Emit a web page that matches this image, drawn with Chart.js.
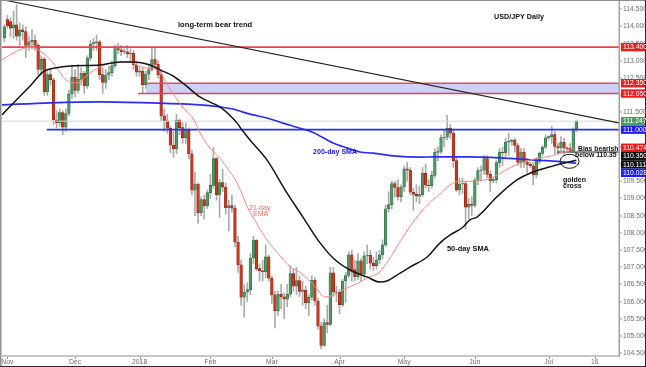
<!DOCTYPE html>
<html><head><meta charset="utf-8">
<script src="https://cdn.jsdelivr.net/npm/chart.js@4.4.1/dist/chart.umd.min.js"></script>
<style>html,body{margin:0;padding:0;background:#fff;}canvas{display:block;}</style>
</head><body>
<canvas id="c" width="646" height="367"></canvas>
<script>
// ---- data (one candle per session slot, Oct 31 2017 .. Jul 11 2018) ----
const opens = [113.67,114.20,114.14,113.95,114.05,113.72,113.90,113.85,113.45,113.55,
113.60,113.45,112.75,113.05,112.10,112.60,112.45,111.28,111.20,111.50,
111.07,111.47,112.04,112.53,112.14,112.46,112.64,112.27,113.08,113.49,
113.53,113.55,112.60,112.37,112.59,112.66,112.86,113.36,113.32,113.27,
113.26,113.20,113.22,112.88,112.67,112.70,112.31,112.61,112.75,113.04,
112.90,112.60,111.40,111.26,111.04,110.55,110.44,111.28,111.06,110.77,
111.00,110.30,109.24,109.42,108.59,108.97,108.78,109.17,109.38,110.16,
109.10,109.46,109.33,108.73,108.79,108.72,107.73,107.07,106.13,106.28,
106.35,107.27,107.79,106.96,106.90,106.87,107.30,106.68,106.20,105.74,
106.21,106.14,106.07,106.22,106.82,106.45,106.61,106.30,106.34,105.97,
106.13,106.62,106.02,105.29,104.73,105.39,105.34,106.84,106.28,106.27,
105.91,106.60,106.76,107.36,106.93,106.73,107.19,106.81,107.33,107.35,
107.12,107.05,107.22,107.36,107.65,108.70,108.82,109.43,109.32,109.05,
109.34,109.86,109.82,109.18,109.12,109.07,109.11,109.73,109.39,109.37,
109.67,110.34,110.37,110.77,110.78,111.04,110.90,110.10,109.25,109.42,
109.43,108.75,108.84,108.80,109.53,109.81,109.82,110.16,109.70,109.51,
109.55,110.04,110.35,110.33,110.64,110.66,110.70,110.54,110.05,110.35,
110.06,109.99,109.95,109.69,110.08,110.31,110.49,110.76,110.80,110.86,
110.51,110.47,110.63,110.47,110.45,110.38,111.00];
const highs = [114.05,114.32,114.25,114.45,114.63,114.10,114.05,114.00,113.70,113.90,
113.75,113.50,113.15,113.10,112.70,112.75,112.50,111.55,111.60,111.55,
111.60,112.15,112.88,112.75,112.90,112.80,112.70,113.15,113.60,113.65,
113.75,113.60,112.80,112.75,112.85,113.00,113.45,113.50,113.45,113.35,
113.45,113.35,113.30,112.95,112.80,112.80,112.70,112.90,113.38,113.38,
113.00,112.75,111.60,111.45,111.10,110.95,111.45,111.30,111.20,111.20,
111.05,110.40,109.77,109.45,109.05,109.10,109.25,109.70,110.48,110.20,
109.55,109.85,109.45,108.95,109.10,108.80,107.90,107.20,106.50,106.55,
107.40,107.90,107.80,107.10,107.20,107.65,107.35,106.75,106.30,106.30,
106.50,106.25,106.50,107.05,106.95,107.00,106.75,106.60,106.45,106.20,
106.75,106.70,106.10,105.40,105.50,105.90,107.00,107.00,106.45,106.35,
106.65,106.85,107.45,107.50,107.20,107.40,107.25,107.45,107.65,107.50,
107.30,107.45,107.50,107.80,108.80,109.20,109.50,109.50,109.55,109.40,
109.95,110.05,109.90,109.30,109.40,109.35,109.90,110.00,109.55,109.80,
110.45,110.50,110.85,111.00,111.42,111.15,111.00,110.20,109.60,109.60,
109.50,109.00,109.05,109.60,109.90,109.95,110.25,110.25,109.80,109.60,
110.10,110.45,110.50,110.75,110.90,110.72,110.75,110.60,110.45,110.45,
110.15,110.05,110.05,110.20,110.35,110.55,110.85,110.82,111.10,110.95,
110.60,110.80,110.75,110.50,110.60,111.05,111.28];
const lows = [113.55,113.95,113.70,113.65,113.60,113.45,113.60,113.10,113.30,113.35,
113.30,112.60,112.60,112.00,112.00,112.30,111.15,111.05,111.10,110.85,
110.95,111.40,111.90,111.95,112.05,112.30,112.05,112.20,113.00,113.30,
113.30,112.45,112.05,112.20,112.45,112.55,112.80,113.20,113.15,113.20,
113.10,112.95,112.75,112.55,112.55,112.05,112.20,112.45,112.70,112.80,
112.50,111.27,110.95,110.90,110.33,110.20,110.30,110.85,110.60,110.60,
110.15,109.10,108.50,108.28,108.50,108.40,108.70,109.00,109.30,108.95,
108.45,109.20,108.55,108.05,108.60,107.60,106.85,105.90,105.55,106.00,
106.20,107.10,106.90,106.60,106.60,106.70,106.60,105.95,105.24,105.60,
105.80,105.50,105.85,106.15,106.30,106.20,106.15,105.90,105.80,105.60,
106.05,105.90,105.20,104.63,104.70,105.10,105.30,106.15,106.00,105.65,
105.85,105.98,106.70,106.60,106.60,106.65,106.60,106.70,107.10,106.95,
106.90,106.95,107.10,107.25,107.60,108.60,108.70,109.05,108.95,108.90,
109.20,109.50,109.10,108.65,108.90,108.85,109.05,109.30,109.20,109.30,
109.60,110.10,110.30,110.50,110.70,110.75,109.90,109.20,109.10,109.15,
108.12,108.40,108.50,108.75,109.40,109.50,109.70,109.60,109.20,109.45,
109.45,109.90,109.95,110.20,110.25,110.55,110.35,109.95,109.90,109.90,
109.75,109.90,109.40,109.60,110.00,110.25,110.45,110.70,110.60,110.30,
110.30,110.40,110.25,110.40,110.35,110.33,110.95];
const closes = [113.99,114.02,113.95,114.05,113.72,113.90,113.85,113.45,113.55,113.60,
113.45,112.75,113.05,112.10,112.60,112.45,111.28,111.20,111.50,111.07,
111.47,112.04,112.53,112.14,112.46,112.64,112.27,113.08,113.49,113.53,
113.55,112.60,112.37,112.59,112.66,112.86,113.36,113.32,113.27,113.26,
113.20,113.22,112.88,112.67,112.70,112.31,112.61,112.75,113.04,112.90,
112.60,111.40,111.26,111.04,110.55,110.44,111.28,111.06,110.77,111.00,
110.30,109.24,109.42,108.59,108.97,108.78,109.17,109.38,110.16,109.10,
109.46,109.33,108.73,108.79,108.72,107.73,107.07,106.13,106.28,106.35,
107.27,107.79,106.96,106.90,106.87,107.30,106.68,106.20,105.74,106.21,
106.14,106.07,106.22,106.82,106.45,106.61,106.30,106.34,105.97,106.13,
106.62,106.02,105.29,104.73,105.39,105.34,106.84,106.28,106.27,105.91,
106.60,106.76,107.36,106.93,106.73,107.19,106.81,107.33,107.35,107.12,
107.05,107.22,107.36,107.65,108.70,108.82,109.43,109.32,109.05,109.34,
109.86,109.82,109.18,109.12,109.07,109.11,109.73,109.39,109.37,109.67,
110.34,110.37,110.77,110.78,111.04,110.90,110.10,109.25,109.42,109.43,
108.75,108.84,108.80,109.53,109.81,109.82,110.16,109.70,109.51,109.55,
110.04,110.35,110.33,110.64,110.66,110.70,110.54,110.05,110.35,110.06,
109.99,109.95,109.69,110.08,110.31,110.49,110.76,110.80,110.86,110.51,
110.47,110.63,110.47,110.45,110.38,111.00,111.247];

const monthTickSlots  = [1,23,44,67,87,109,130,153,177,192];
const monthTickLabels = ['Nov','Dec','2018','Feb','Mar','Apr','May','Jun','Jul','16'];
const priceTicks = [104.5,105,105.5,106,106.5,107,107.5,108,108.5,109,109.5,110,110.5,111,111.5,112,112.5,113,113.5,114,114.5];

const ema21Slots  = [-0.75,5,9,11,15,18,20,24,27,31,35,40,43,46,50,53,56,59,61,64,67,70,72,76,79,82,85,90,93,96,99,102,104,107,110,115,118,122,125,129,132,135,138,142,145,148,151,155,158,161,165,168,171,174,178,181,184,186];
const ema21Values = [113.03,113.32,113.40,113.32,113.03,112.68,112.45,112.36,112.59,112.82,112.94,112.97,112.88,112.79,112.74,112.30,111.90,111.55,111.38,110.85,110.45,110.18,109.95,109.40,108.75,108.29,107.85,107.30,107.01,106.86,106.63,106.34,106.14,106.19,106.34,106.54,106.69,106.86,107.21,107.79,108.20,108.55,108.85,109.15,109.40,109.50,109.50,109.52,109.58,109.72,109.92,110.03,110.12,110.18,110.24,110.32,110.41,110.474];

const sma50Slots  = [-0.75,4,9,12.6,17,21.4,31.1,37.6,41.9,47.4,50.6,54.9,58.8,63.6,66.9,70.1,75.7,77.3,79.9,85.4,91.9,97.1,102,106.9,112.4,117.9,122.2,124.4,128.7,132,137.5,141.7,145,149.2,151.4,153.7,160.2,166.7,171.9,177.5,180.7,186];
const sma50Values = [111.43,111.87,112.33,112.68,112.80,112.85,112.88,112.97,112.97,112.88,112.74,112.56,112.30,111.95,111.80,111.66,111.19,110.99,110.70,110.12,109.16,108.46,107.79,107.27,106.92,106.72,106.57,106.60,106.83,107.01,107.30,107.71,107.94,108.17,108.38,108.46,109.05,109.54,109.77,109.92,110.00,110.111];

const sma200Slots  = [-0.75,14.9,31.1,47.4,63.6,70.1,74.4,77.6,80.9,85.4,90.6,96.2,100.4,106.9,111.4,115.7,119.9,126.4,135.2,139.4,150.5,161.2,171.9,177.5,186];
const sma200Values = [111.72,111.78,111.81,111.78,111.72,111.66,111.60,111.51,111.43,111.34,111.19,111.04,110.92,110.61,110.47,110.35,110.32,110.24,110.20,110.21,110.21,110.18,110.12,110.09,110.028];

const trendSlots  = [-0.75, 200.2];
const trendValues = [114.78, 111.19];

const resistanceLevel = 113.4;
const zoneTop = 112.35, zoneBottom = 112.05;
const supportLevel = 111.0;
const lastPrice = 111.247;
const biasLevel = 110.35;
const crossSlot = 183.8, crossValue = 110.08;

const X_MIN = -0.75, X_MAX = 200.2, Y_MIN = 104.45, Y_MAX = 114.74;

const axisMarkers = [
  {value:113.4,   color:'#ec1c1c'},
  {value:112.35,  color:'#ec1c1c'},
  {value:112.05,  color:'#ec1c1c'},
  {value:111.247, color:'#4e9a66'},
  {value:111.0,   color:'#1f1fff'},
  {value:110.474, color:'#ec1c1c'},
  {value:110.35,  color:'#111111'},
  {value:110.111, color:'#111111'},
  {value:110.028, color:'#1f1fff'}
];

// ---- build datasets ----
const slots = closes.map((_, i) => i);
const isUp = slots.map(i => closes[i] >= opens[i]);
const pts = (xs, ys) => xs.map((s, i) => ({x: s, y: ys[i]}));
const hline = (from, v) => [{x: from, y: v}, {x: X_MAX, y: v}];

const lineBase = {type:'line', pointRadius:0, pointHoverRadius:0, fill:false, tension:0};

const datasets = [
  Object.assign({}, lineBase, {data: hline(46.1, zoneTop), borderColor:'rgba(0,0,0,0)', borderWidth:0,
      fill:{value: zoneBottom}, backgroundColor:'rgba(204,204,248,0.95)', order:9}),
  {type:'bar', data: slots.map(i => ({x:i, y:[lows[i], highs[i]]})), backgroundColor:'#ababab',
      barThickness:1, grouped:false, order:8},
  {type:'bar', data: slots.map(i => ({x:i, y:[opens[i], closes[i]]})),
      backgroundColor: isUp.map(u => u ? '#4f9566' : '#c8391f'),
      borderColor: isUp.map(u => u ? '#2f6d45' : '#8c2414'), borderWidth:0.6, borderSkipped:false,
      barThickness:2.7, grouped:false, order:7},
  Object.assign({}, lineBase, {data: hline(-0.75, lastPrice), borderColor:'#cfdcd4', borderWidth:1, order:6}),
  Object.assign({}, lineBase, {data: hline(-0.75, resistanceLevel), borderColor:'#e8454a', borderWidth:1.6, order:5}),
  Object.assign({}, lineBase, {data: hline(46.1, zoneTop), borderColor:'#e0505c', borderWidth:1.4, order:5}),
  Object.assign({}, lineBase, {data: hline(43.5, zoneBottom), borderColor:'#e8454a', borderWidth:1.6, order:5}),
  Object.assign({}, lineBase, {data: hline(13.8, supportLevel), borderColor:'#2233f0', borderWidth:1.8, order:5}),
  Object.assign({}, lineBase, {data: hline(179.7, biasLevel), borderColor:'#222222', borderWidth:1, order:5}),
  Object.assign({}, lineBase, {data: pts(sma200Slots, sma200Values), borderColor:'#2a2ef0', borderWidth:1.7, cubicInterpolationMode:'monotone', order:3}),
  Object.assign({}, lineBase, {data: pts(ema21Slots, ema21Values), borderColor:'#f58a84', borderWidth:1, cubicInterpolationMode:'monotone', order:2}),
  Object.assign({}, lineBase, {data: pts(sma50Slots, sma50Values), borderColor:'#151515', borderWidth:1.5, cubicInterpolationMode:'monotone', order:1}),
  Object.assign({}, lineBase, {data: pts(trendSlots, trendValues), borderColor:'#262626', borderWidth:1.1, order:0})
];

const FONT = '"Liberation Sans", Arial, sans-serif';
const texts = [
  {t:'USD/JPY Daily', x:519, y:17, c:'#111', f:'bold 7.2px', a:'center'},
  {t:'long-term bear trend', x:178, y:25, c:'#111', f:'bold 7.6px', a:'left'},
  {t:'200-day SMA', x:313, y:152, c:'#1c1ce0', f:'bold 7.1px', a:'left'},
  {t:'21-day', x:249, y:208, c:'#f06a64', f:'7px', a:'left'},
  {t:'EMA', x:253, y:214.5, c:'#f06a64', f:'7px', a:'left'},
  {t:'50-day SMA', x:447, y:249, c:'#111', f:'bold 7.4px', a:'left'},
  {t:'Bias bearish', x:578, y:149.2, c:'#111', f:'bold 6.8px', a:'left'},
  {t:'below 110.35', x:575, y:155.4, c:'#111', f:'bold 6.8px', a:'left'},
  {t:'golden', x:563, y:180, c:'#111', f:'bold 7px', a:'left'},
  {t:'cross', x:563, y:186.5, c:'#111', f:'bold 7px', a:'left'}
];

const overlay = {
  id:'overlay',
  afterDraw(chart) {
    const {ctx, chartArea:a, scales:{x, y}} = chart;
    const W = chart.width, H = chart.height;
    ctx.save();
    // golden cross ellipse
    ctx.beginPath();
    ctx.ellipse(x.getPixelForValue(crossSlot), y.getPixelForValue(crossValue), 9.5, 7, 0, 0, Math.PI*2);
    ctx.strokeStyle = '#151515'; ctx.lineWidth = 1; ctx.stroke();
    // axes lines
    ctx.fillStyle = '#c6c6c6'; ctx.fillRect(a.left, a.bottom, a.right - a.left, 2);
    ctx.fillStyle = '#a3a3a3'; ctx.fillRect(a.right - 1.5, 0, 1.5, a.bottom + 2);
    // outer frame
    ctx.fillStyle = '#8f8f8f'; ctx.fillRect(0, 0, W, 1); ctx.fillRect(0, 0, 1.5, H);
    ctx.fillStyle = '#2a2a2a'; ctx.fillRect(W - 1, 0, 1, H); ctx.fillRect(0, H - 1, W, 1);
    // y ticks
    ctx.font = '6.8px ' + FONT; ctx.textBaseline = 'middle'; ctx.textAlign = 'left';
    priceTicks.forEach(v => {
      const py = y.getPixelForValue(v);
      ctx.fillStyle = '#9a9a9a'; ctx.fillRect(a.right, Math.round(py) - 0.5, 2, 1);
      ctx.fillStyle = '#6e6e6e'; ctx.fillText(v.toFixed(3), a.right + 3, py);
    });
    // x ticks
    ctx.textAlign = 'center';
    monthTickSlots.forEach((s, i) => {
      const px = x.getPixelForValue(s);
      ctx.fillStyle = '#9a9a9a'; ctx.fillRect(Math.round(px), a.bottom + 2, 1, 2);
      ctx.fillStyle = '#6e6e6e'; ctx.fillText(monthTickLabels[i], px, 362);
    });
    // axis value markers (stacked to avoid overlap)
    const sorted = axisMarkers.slice().sort((p, q) => q.value - p.value);
    let prev = -1e9;
    ctx.font = '6.8px ' + FONT; ctx.textAlign = 'left';
    sorted.forEach(m => {
      let py = y.getPixelForValue(m.value);
      if (py < prev + 8.35) py = prev + 8.35;
      prev = py;
      ctx.fillStyle = m.color; ctx.fillRect(a.right + 1, py - 4.2, W - a.right - 2, 8.4);
      ctx.fillStyle = '#ffffff'; ctx.fillText(m.value.toFixed(3), a.right + 3, py + 0.3);
    });
    // annotation texts
    texts.forEach(t => {
      ctx.font = t.f + ' ' + FONT; ctx.fillStyle = t.c; ctx.textAlign = t.a;
      ctx.fillText(t.t, t.x, t.y);
    });
    ctx.restore();
  }
};

new Chart(document.getElementById('c'), {
  type:'bar',
  data:{datasets},
  options:{
    responsive:false, animation:false, devicePixelRatio:1,
    layout:{padding:{left:2, top:1, right:26, bottom:12}},
    plugins:{legend:{display:false}, tooltip:{enabled:false}},
    scales:{
      x:{type:'linear', min:X_MIN, max:X_MAX, offset:false, display:false},
      y:{type:'linear', min:Y_MIN, max:Y_MAX, display:false}
    }
  },
  plugins:[overlay]
});
</script>
</body></html>
